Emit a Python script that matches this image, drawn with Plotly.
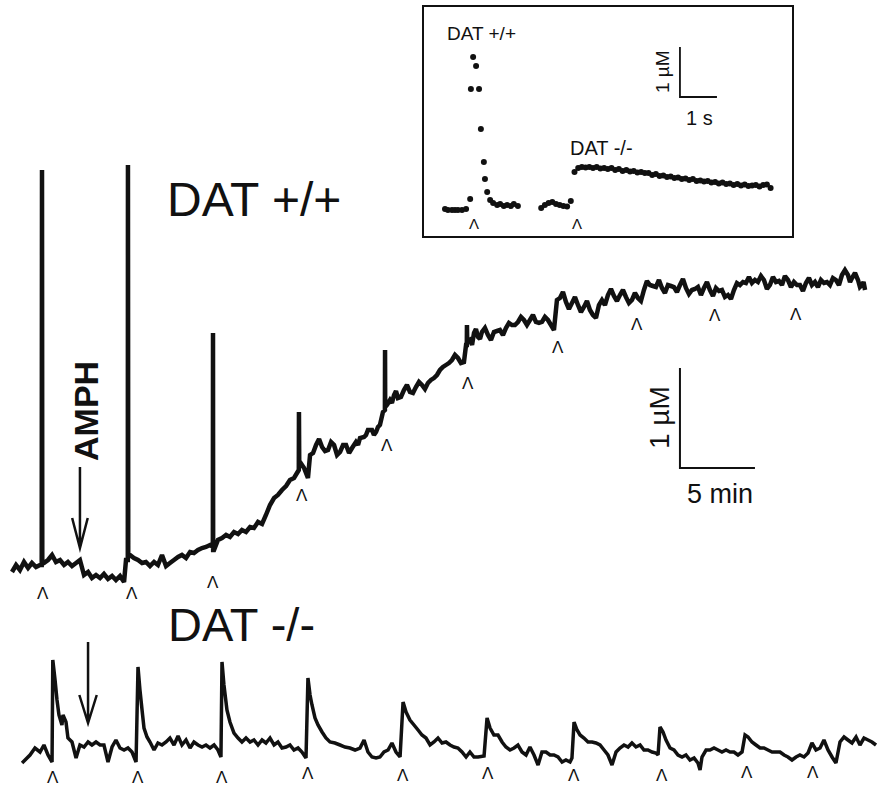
import plotly.graph_objects as go

W, H = 877, 788

# ---------------- data (time in min, concentration in µM) ----------------
# DAT +/+ main trace (time min, conc µM), evoked spikes included
wt_samples = [
    (0.00, 0.03), (0.27, 0.10), (0.53, 0.05), (0.80, 0.13), (1.07, 0.07), (1.33, 0.12), (1.60, 0.08), (1.87, 0.10),
    (1.98, 0.10), (2.00, 4.05), (2.02, 0.12),
    (2.13, 0.12), (2.40, 0.15), (2.67, 0.20), (2.93, 0.13), (3.20, 0.15), (3.47, 0.10), (3.73, 0.13), (4.00, 0.09),
    (4.27, 0.12), (4.53, 0.15), (4.80, 0.00), (5.07, 0.03), (5.33, -0.03), (5.60, 0.00), (5.87, -0.03), (6.13, 0.01),
    (6.40, -0.04), (6.67, -0.01), (6.93, -0.05), (7.20, -0.01), (7.47, -0.07), (7.60, 0.15),
    (7.72, 0.15), (7.73, 4.10), (7.75, 0.18),
    (7.87, 0.20), (8.13, 0.17), (8.40, 0.15), (8.67, 0.12), (8.93, 0.13), (9.20, 0.09), (9.47, 0.13), (9.73, 0.10),
    (10.00, 0.20), (10.27, 0.09), (10.53, 0.12), (10.80, 0.15), (11.07, 0.18), (11.33, 0.20), (11.60, 0.17),
    (11.87, 0.23), (12.13, 0.22), (12.40, 0.25), (12.67, 0.27), (12.93, 0.28), (13.20, 0.30),
    (13.39, 0.28), (13.40, 2.42), (13.41, 0.25),
    (13.47, 0.25), (13.73, 0.35), (14.00, 0.37), (14.27, 0.40), (14.53, 0.38), (14.80, 0.43), (15.07, 0.41),
    (15.33, 0.45), (15.60, 0.43), (15.87, 0.48), (16.13, 0.47), (16.40, 0.53), (16.67, 0.51), (16.93, 0.60),
    (17.20, 0.70), (17.47, 0.77), (17.73, 0.80), (18.00, 0.85), (18.27, 0.89), (18.53, 0.95), (18.80, 0.97),
    (19.12, 1.05), (19.13, 1.63), (19.15, 1.10),
    (19.20, 1.13), (19.47, 1.07), (19.73, 0.97), (19.87, 1.20), (20.07, 1.22), (20.27, 1.30), (20.47, 1.36),
    (20.67, 1.28), (20.87, 1.24), (21.07, 1.25), (21.27, 1.33), (21.47, 1.30), (21.67, 1.20), (21.87, 1.23),
    (22.07, 1.30), (22.27, 1.30), (22.47, 1.22), (22.67, 1.27), (22.93, 1.33), (23.07, 1.30), (23.20, 1.37),
    (23.47, 1.38), (23.60, 1.40), (23.73, 1.45), (24.00, 1.45), (24.13, 1.40), (24.27, 1.43), (24.40, 1.48),
    (24.53, 1.50), (24.73, 1.63),
    (24.86, 1.65), (24.87, 2.25), (24.88, 1.68),
    (25.00, 1.70), (25.20, 1.75), (25.33, 1.72), (25.47, 1.80), (25.60, 1.84), (25.73, 1.77), (25.93, 1.78),
    (26.13, 1.85), (26.33, 1.90), (26.53, 1.83), (26.73, 1.82), (26.93, 1.88), (27.13, 1.93), (27.33, 1.90),
    (27.53, 1.86), (27.73, 1.92), (27.93, 1.95), (28.13, 1.97), (28.33, 2.00), (28.53, 2.05), (28.73, 2.08),
    (28.93, 2.10), (29.13, 2.12), (29.33, 2.15), (29.53, 2.20), (29.73, 2.17), (29.93, 2.12), (30.13, 2.13),
    (30.27, 2.30),
    (30.32, 2.30), (30.33, 2.50), (30.35, 2.33),
    (30.53, 2.35), (30.67, 2.30), (30.80, 2.42), (30.93, 2.46), (31.07, 2.38), (31.20, 2.36), (31.33, 2.43),
    (31.53, 2.47), (31.73, 2.40), (31.93, 2.35), (32.13, 2.43), (32.33, 2.44), (32.53, 2.45), (32.73, 2.40),
    (32.93, 2.47), (33.13, 2.52), (33.33, 2.50), (33.53, 2.50), (33.73, 2.53), (33.93, 2.58), (34.13, 2.55),
    (34.33, 2.50), (34.53, 2.55), (34.73, 2.60), (34.93, 2.53), (35.13, 2.52), (35.33, 2.53), (35.53, 2.58),
    (35.73, 2.55), (35.93, 2.50), (36.13, 2.45),
    (36.33, 2.75), (36.53, 2.77), (36.73, 2.83), (36.93, 2.73), (37.13, 2.66), (37.33, 2.72), (37.53, 2.78),
    (37.73, 2.70), (37.93, 2.63), (38.13, 2.68), (38.33, 2.74), (38.53, 2.65), (38.73, 2.60), (38.93, 2.57),
    (39.13, 2.70), (39.33, 2.75), (39.53, 2.70), (39.73, 2.80), (39.93, 2.86), (40.13, 2.79), (40.33, 2.74),
    (40.53, 2.80), (40.73, 2.85), (40.93, 2.78), (41.13, 2.72), (41.33, 2.75), (41.53, 2.82), (41.73, 2.77),
    (41.93, 2.74), (42.13, 2.85), (42.33, 2.94), (42.53, 2.90), (42.73, 2.89), (42.93, 2.88), (43.13, 2.95),
    (43.33, 2.87), (43.53, 2.82), (43.73, 2.90), (43.93, 2.89), (44.13, 2.88), (44.33, 2.83), (44.53, 2.90),
    (44.73, 2.96), (44.93, 2.87), (45.13, 2.81), (45.33, 2.85), (45.53, 2.86), (45.73, 2.88), (45.93, 2.80),
    (46.13, 2.87), (46.33, 2.93), (46.53, 2.85), (46.73, 2.79), (46.93, 2.87), (47.13, 2.84), (47.33, 2.85),
    (47.53, 2.78), (47.73, 2.80), (47.93, 2.76), (48.13, 2.85), (48.33, 2.92), (48.53, 2.90), (48.73, 2.93),
    (48.93, 2.92), (49.13, 2.98), (49.33, 2.92), (49.53, 2.95), (49.73, 2.93), (49.93, 2.99), (50.13, 2.95),
    (50.33, 2.86), (50.53, 2.90), (50.73, 2.98), (50.93, 2.93), (51.13, 2.94), (51.33, 2.90), (51.53, 2.99),
    (51.73, 2.95), (51.93, 2.88), (52.13, 2.93), (52.33, 2.90), (52.53, 2.90), (52.73, 2.84), (52.93, 2.92),
    (53.13, 2.97), (53.33, 2.90), (53.53, 2.93), (53.73, 2.88), (53.93, 2.95), (54.13, 2.92), (54.33, 2.93),
    (54.53, 2.90), (54.73, 2.97), (54.93, 2.95), (55.13, 2.90), (55.33, 3.00), (55.53, 3.05), (55.73, 3.00),
    (55.87, 2.93), (56.00, 2.97), (56.20, 3.02), (56.40, 2.95), (56.53, 2.88), (56.67, 2.90), (56.77, 2.93),
    (56.87, 2.85),
]

# DAT -/- main trace (time min, conc µM)
ko_samples = [
    (0.67, -0.08), (0.87, -0.05), (1.20, 0.00), (1.53, 0.07), (1.87, 0.03), (2.13, 0.10), (2.40, 0.00), (2.67, -0.07),
    (2.72, 0.95), (2.87, 0.75), (3.00, 0.55), (3.13, 0.40), (3.33, 0.30), (3.40, 0.40), (3.60, 0.33), (3.73, 0.17),
    (4.00, 0.13), (4.27, -0.03), (4.53, 0.10), (4.80, 0.08), (5.07, 0.13), (5.33, 0.10), (5.60, 0.13), (5.87, 0.10),
    (6.13, 0.10), (6.40, -0.07), (6.67, 0.08), (6.93, 0.15), (7.20, 0.07), (7.47, 0.05), (7.73, 0.07), (8.00, 0.03),
    (8.27, -0.07),
    (8.40, 0.88), (8.53, 0.65), (8.67, 0.45), (8.80, 0.27), (9.00, 0.18), (9.20, 0.13), (9.47, 0.05), (9.73, 0.12),
    (10.00, 0.10), (10.27, 0.13), (10.53, 0.17), (10.80, 0.10), (11.07, 0.19), (11.33, 0.10), (11.60, 0.15),
    (11.87, 0.07), (12.13, 0.13), (12.40, 0.10), (12.67, 0.08), (12.93, 0.10), (13.20, 0.07), (13.47, 0.10),
    (13.73, 0.05), (13.93, -0.02),
    (14.00, 0.93), (14.13, 0.70), (14.33, 0.45), (14.53, 0.33), (14.80, 0.22), (15.07, 0.17), (15.33, 0.13),
    (15.60, 0.17), (15.87, 0.13), (16.13, 0.15), (16.40, 0.10), (16.67, 0.15), (16.93, 0.12), (17.20, 0.17),
    (17.47, 0.10), (17.73, 0.13), (18.00, 0.07), (18.27, 0.08), (18.53, 0.10), (18.80, 0.05), (19.07, 0.07),
    (19.33, 0.03), (19.60, -0.03),
    (19.73, 0.77), (19.87, 0.60), (20.00, 0.50), (20.20, 0.37), (20.40, 0.30), (20.67, 0.23), (20.93, 0.17),
    (21.20, 0.13), (21.53, 0.12), (21.87, 0.10), (22.20, 0.08), (22.53, 0.07), (22.87, 0.05), (23.20, 0.07),
    (23.47, 0.15), (23.73, 0.03), (24.00, -0.02), (24.27, -0.03), (24.53, -0.02), (24.80, 0.03), (25.07, 0.05),
    (25.33, 0.12), (25.60, 0.03), (25.87, -0.02),
    (26.07, 0.53), (26.27, 0.43), (26.53, 0.35), (26.80, 0.30), (27.07, 0.25), (27.33, 0.20), (27.60, 0.17),
    (27.87, 0.10), (28.13, 0.13), (28.40, 0.17), (28.67, 0.12), (28.93, 0.13), (29.20, 0.10), (29.47, 0.08),
    (29.73, 0.07), (30.00, 0.03), (30.27, -0.02), (30.53, 0.03), (30.80, -0.02), (31.07, -0.02), (31.47, -0.01),
    (31.67, 0.37), (31.87, 0.27), (32.13, 0.20), (32.40, 0.20), (32.67, 0.13), (32.93, 0.08), (33.20, 0.05),
    (33.47, 0.07), (33.73, 0.10), (34.00, 0.03), (34.27, 0.00), (34.53, 0.08), (34.80, 0.00), (35.07, -0.10),
    (35.33, 0.03), (35.60, 0.03), (35.87, 0.00), (36.13, 0.00), (36.40, -0.02), (36.67, -0.07), (36.93, -0.05),
    (37.20, -0.07), (37.33, -0.03),
    (37.47, 0.33), (37.67, 0.25), (37.87, 0.20), (38.13, 0.17), (38.40, 0.13), (38.67, 0.13), (38.93, 0.12),
    (39.20, 0.10), (39.47, 0.05), (39.73, 0.00), (40.00, -0.10), (40.27, 0.03), (40.53, 0.07), (40.80, 0.10),
    (41.07, 0.08), (41.33, 0.12), (41.60, 0.08), (41.87, 0.10), (42.13, 0.05), (42.40, 0.05), (42.67, 0.03),
    (42.93, 0.02), (43.07, 0.00),
    (43.20, 0.28), (43.40, 0.23), (43.60, 0.15), (43.87, 0.07), (44.13, 0.05), (44.40, 0.00), (44.67, -0.02),
    (44.93, 0.00), (45.20, -0.05), (45.47, -0.03), (45.73, -0.08), (45.87, -0.15), (46.00, -0.02), (46.27, 0.05),
    (46.53, 0.05), (46.80, 0.07), (47.07, 0.05), (47.33, 0.03), (47.60, 0.05), (47.87, 0.03), (48.13, 0.03),
    (48.40, 0.00), (48.67, 0.03),
    (48.87, 0.20), (49.07, 0.18), (49.33, 0.13), (49.60, 0.10), (49.87, 0.07), (50.13, 0.07), (50.40, 0.05),
    (50.67, 0.03), (50.93, 0.03), (51.20, 0.03), (51.47, 0.00), (51.73, -0.02), (52.00, -0.05), (52.27, -0.02),
    (52.53, 0.00), (52.80, -0.02), (53.07, 0.02), (53.33, 0.12), (53.60, 0.05), (53.87, 0.07), (54.13, 0.15),
    (54.40, 0.05), (54.67, -0.02), (54.93, -0.08), (55.20, 0.13), (55.47, 0.18), (55.73, 0.15), (56.00, 0.12),
    (56.27, 0.18), (56.53, 0.10), (56.80, 0.17), (57.07, 0.15), (57.33, 0.13), (57.60, 0.10),
]

# stimulation marks (time min, level µM) for each trace
wt_stim_time = [2.07, 8.00, 13.40, 19.33, 25.00, 30.40, 36.40, 41.67, 46.87, 52.27]
wt_stim_level = [-0.18, -0.18, -0.07, 0.80, 1.30, 1.92, 2.28, 2.51, 2.60, 2.61]
ko_stim_time = [2.73, 8.40, 14.00, 19.73, 26.07, 31.73, 37.47, 43.33, 49.00, 53.40]
ko_stim_level = [-0.22, -0.22, -0.22, -0.18, -0.20, -0.18, -0.20, -0.20, -0.17, -0.17]

# amphetamine application (time min, arrow tip / tail level µM)
amph_wt = (4.53, 0.27, 1.08)
amph_ko = (5.07, 0.32, 1.13)

# inset: single evoked responses (time s, conc µM)
inset_wt_time = [0.00, 0.08, 0.19, 0.27, 0.35, 0.46, 0.57, 0.68, 0.70, 0.76, 0.84, 0.92, 0.97, 1.05, 1.08,
                 1.14, 1.22, 1.30, 1.41, 1.49, 1.59, 1.68, 1.78, 1.86, 1.97]
inset_wt_conc = [0.00, -0.02, -0.02, -0.02, -0.02, -0.02, 0.00, 0.20, 2.40, 3.04, 2.86, 2.40, 1.60, 0.94, 0.60,
                 0.34, 0.18, 0.12, 0.08, 0.10, 0.06, 0.08, 0.06, 0.10, 0.06]
inset_ko_time = [2.6, 2.7, 2.8, 2.9, 3.0, 3.1, 3.2, 3.3, 3.4,
                 3.5, 3.6, 3.7, 3.8, 3.9, 4.0, 4.1, 4.2, 4.3, 4.4, 4.5, 4.6, 4.7, 4.8, 4.9, 5.0, 5.1, 5.2,
                 5.3, 5.4, 5.5, 5.6, 5.7, 5.8, 5.9, 6.0, 6.1, 6.2, 6.3, 6.4, 6.5, 6.6, 6.7, 6.8, 6.9, 7.0,
                 7.1, 7.2, 7.3, 7.4, 7.5, 7.6, 7.7, 7.8, 7.9, 8.0, 8.1, 8.2, 8.3, 8.4, 8.5, 8.6, 8.7, 8.8]
inset_ko_conc = [0.02, 0.08, 0.12, 0.14, 0.10, 0.08, 0.06, 0.05, 0.16,
                 0.74, 0.82, 0.84, 0.83, 0.84, 0.82, 0.84, 0.81, 0.82, 0.80, 0.82, 0.78, 0.80, 0.76, 0.78, 0.75,
                 0.76, 0.73, 0.74, 0.72, 0.72, 0.68, 0.70, 0.66, 0.67, 0.64, 0.65, 0.62, 0.63, 0.60, 0.61, 0.58,
                 0.60, 0.56, 0.57, 0.55, 0.56, 0.53, 0.54, 0.51, 0.53, 0.50, 0.51, 0.48, 0.50, 0.47, 0.49, 0.46,
                 0.47, 0.48, 0.45, 0.48, 0.49, 0.42]
inset_stim_time = [0.78, 3.57]
inset_stim_level = [-0.28, -0.28]

# scale bars
main_bar = {"t0": 44.53, "c0": 1.07, "dt": 5, "dc": 1}
inset_bar = {"t0": 6.35, "c0": 2.24, "dt": 1, "dc": 1}

# ---------------- layout geometry (pixels) ----------------
PX_MIN, PX_UM = 15.0, 100.0          # main: px per minute / per µM
X0_PX, WT_ZERO_PX, KO_ZERO_PX = 12.0, 575.0, 755.0
IN_L, IN_R, IN_T, IN_B = 424.0, 792.0, 7.0, 236.0
IN_PX_S, IN_PX_UM = 37.0, 50.0
IN_X0_PX, IN_ZERO_PX = 445.0, 209.0

FONT = "Liberation Sans, Arial, Helvetica, sans-serif"
INK = "#111111"
STIM = "\u039b"

fig = go.Figure()

wt_t = [p[0] for p in wt_samples]
wt_c = [p[1] for p in wt_samples]
ko_t = [p[0] for p in ko_samples]
ko_c = [p[1] for p in ko_samples]

fig.add_trace(go.Scatter(x=wt_t, y=wt_c, mode="lines", line=dict(color=INK, width=4.5, simplify=False),
                         xaxis="x", yaxis="y", showlegend=False, hoverinfo="skip"))
fig.add_trace(go.Scatter(x=ko_t, y=ko_c, mode="lines", line=dict(color=INK, width=3.5, simplify=False),
                         xaxis="x", yaxis="y2", showlegend=False, hoverinfo="skip"))
fig.add_trace(go.Scatter(x=inset_wt_time, y=inset_wt_conc, mode="markers",
                         marker=dict(color=INK, size=6), xaxis="x3", yaxis="y3",
                         showlegend=False, hoverinfo="skip"))
fig.add_trace(go.Scatter(x=inset_ko_time, y=inset_ko_conc, mode="markers",
                         marker=dict(color=INK, size=6), xaxis="x3", yaxis="y3",
                         showlegend=False, hoverinfo="skip"))

annotations = []
caret_font = dict(family=FONT, size=17, color=INK)
for t, c in zip(wt_stim_time, wt_stim_level):
    annotations.append(dict(x=t, y=c, xref="x", yref="y", text=STIM, showarrow=False,
                            font=caret_font, borderpad=0))
for t, c in zip(ko_stim_time, ko_stim_level):
    annotations.append(dict(x=t, y=c, xref="x", yref="y2", text=STIM, showarrow=False,
                            font=caret_font, borderpad=0))
for t, c in zip(inset_stim_time, inset_stim_level):
    annotations.append(dict(x=t, y=c, xref="x3", yref="y3", text=STIM, showarrow=False,
                            font=dict(family=FONT, size=15, color=INK), borderpad=0))


def label(text, px, py, size, bold=False, angle=0):
    annotations.append(dict(x=px / W, y=1 - py / H, xref="paper", yref="paper", text=text,
                            showarrow=False, textangle=angle, xanchor="center", yanchor="middle",
                            font=dict(family=FONT, size=size, color=INK,
                                      weight="bold" if bold else "normal")))


label("DAT +/+", 254, 199, 48)
label("DAT -/-", 241, 624, 47)
label("AMPH", 86, 411, 34, bold=True, angle=-90)
label("1 µM", 659, 418, 28, angle=-90)
label("5 min", 720, 494, 27)
label("DAT +/+", 481, 34, 19)
label("DAT -/-", 601, 148, 20)
label("1 µM", 662, 72, 19, angle=-90)
label("1 s", 699, 118, 20)

shapes = []


def arrow(t, tip, tail, yref, half_w_px, head_px):
    hw = half_w_px / PX_MIN
    hl = head_px / PX_UM
    path = (f"M{t},{tail} L{t},{tip} M{t - hw},{tip + hl} L{t},{tip} L{t + hw},{tip + hl}")
    shapes.append(dict(type="path", path=path, xref="x", yref=yref,
                       line=dict(color=INK, width=2.5)))


arrow(amph_wt[0], amph_wt[1], amph_wt[2], "y", 7.8, 30)
arrow(amph_ko[0], amph_ko[1], amph_ko[2], "y2", 8.7, 28)

for bar, xr, yr in [(main_bar, "x", "y"), (inset_bar, "x3", "y3")]:
    t0, c0 = bar["t0"], bar["c0"]
    shapes.append(dict(type="path",
                       path=f"M{t0},{c0 + bar['dc']} L{t0},{c0} L{t0 + bar['dt']},{c0}",
                       xref=xr, yref=yr, line=dict(color=INK, width=2 if xr == "x" else 1.8)))

hidden = dict(visible=False, showgrid=False, zeroline=False, fixedrange=True)

fig.update_layout(
    width=W, height=H, autosize=False,
    margin=dict(l=0, r=0, t=0, b=0, pad=0),
    paper_bgcolor="white", plot_bgcolor="rgba(0,0,0,0)",
    xaxis=dict(hidden, domain=[0, 1], range=[-X0_PX / PX_MIN, (W - X0_PX) / PX_MIN]),
    yaxis=dict(hidden, domain=[0, 1], range=[-(H - WT_ZERO_PX) / PX_UM, WT_ZERO_PX / PX_UM]),
    yaxis2=dict(hidden, domain=[0, 1], overlaying="y", anchor="x",
                range=[-(H - KO_ZERO_PX) / PX_UM, KO_ZERO_PX / PX_UM]),
    xaxis3=dict(domain=[IN_L / W, IN_R / W], anchor="y3",
                range=[-(IN_X0_PX - IN_L) / IN_PX_S, (IN_R - IN_X0_PX) / IN_PX_S],
                showline=True, mirror=True, linewidth=2, linecolor=INK,
                showticklabels=False, ticks="", showgrid=False, zeroline=False, fixedrange=True),
    yaxis3=dict(domain=[1 - IN_B / H, 1 - IN_T / H], anchor="x3",
                range=[-(IN_B - IN_ZERO_PX) / IN_PX_UM, (IN_ZERO_PX - IN_T) / IN_PX_UM],
                showline=True, mirror=True, linewidth=2, linecolor=INK,
                showticklabels=False, ticks="", showgrid=False, zeroline=False, fixedrange=True),
    annotations=annotations,
    shapes=shapes,
    showlegend=False,
)

fig.write_html("out.html", config={"displayModeBar": False},
               post_script="document.body.style.margin='0px';document.body.style.overflow='hidden';")
